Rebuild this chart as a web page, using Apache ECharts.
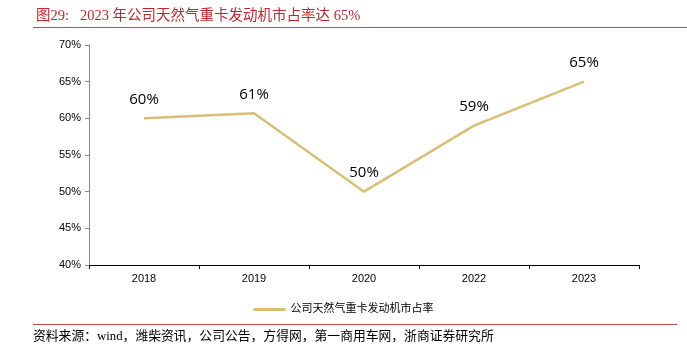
<!DOCTYPE html>
<html><head><meta charset="utf-8">
<script src="https://cdn.jsdelivr.net/npm/echarts@6/dist/echarts.min.js"></script>
<style>html,body{margin:0;padding:0;background:#fff}#c{width:687px;height:360px}</style>
</head><body><div id="c"></div>
<script>
const categories = ['2018', '2019', '2020', '2022', '2023'];
const shareValues = [60.0, 60.7, 50.0, 59.0, 65.0];
const pointLabels = ['60%', '61%', '50%', '59%', '65%'];
const seriesName = '公司天然气重卡发动机市占率';
const titleText = '图29:   2023 年公司天然气重卡发动机市占率达 65%';
const sourceText = '资料来源：wind，潍柴资讯，公司公告，方得网，第一商用车网，浙商证券研究所';

const chart = echarts.init(document.getElementById('c'), null, {renderer: 'canvas'});
const serif = '"Liberation Serif", "Noto Sans CJK SC", serif';
const lineColor = '#D8BF72';
chart.setOption({
  animation: false,
  backgroundColor: '#fff',
  title: {
    text: titleText, left: 31, top: 4,
    textStyle: {color: '#C0272D', fontSize: 14.5, fontWeight: 'normal', fontFamily: serif}
  },
  graphic: [
    {type: 'line', shape: {x1: 33, y1: 27.5, x2: 687, y2: 27.5}, style: {stroke: '#C8474B', lineWidth: 1}},
    {type: 'line', shape: {x1: 33, y1: 324.5, x2: 677, y2: 324.5}, style: {stroke: '#C8474B', lineWidth: 1}},
    {type: 'text', left: 33, top: 330, style: {text: sourceText, fill: '#000', fontSize: 12.8, fontFamily: serif}}
  ],
  grid: {left: 89, right: 48, top: 45, bottom: 95},
  legend: {
    data: [{name: seriesName, itemStyle: {color: lineColor, opacity: 1}}], top: 299, left: 'center',
    itemWidth: 32, itemHeight: 3, icon: 'rect', itemGap: 4,
    textStyle: {fontSize: 11, color: '#000', fontFamily: serif}
  },
  xAxis: {
    type: 'category', data: categories, boundaryGap: true,
    axisLine: {lineStyle: {color: '#000', width: 1}},
    axisTick: {show: true, inside: false, length: 4, lineStyle: {color: '#000'}},
    axisLabel: {color: '#000', fontSize: 11, margin: 8, fontFamily: '"Liberation Sans", Arial, sans-serif'}
  },
  yAxis: {
    type: 'value', min: 40, max: 70, interval: 5,
    axisLine: {show: true, lineStyle: {color: '#888', width: 1}},
    axisTick: {show: true, length: 4, lineStyle: {color: '#888'}},
    splitLine: {show: false},
    axisLabel: {color: '#000', fontSize: 11, margin: 8, formatter: v => v + '%', fontFamily: '"Liberation Sans", Arial, sans-serif'}
  },
  series: [{
    name: seriesName, type: 'line', data: shareValues,
    symbol: 'circle', symbolSize: 0, showSymbol: true,
    lineStyle: {color: lineColor, width: 2.5},
    itemStyle: {color: lineColor},
    label: {
      show: true, position: 'top', distance: 11, color: '#000', fontSize: 15,
      fontFamily: '"Open Sans", "Liberation Sans", sans-serif',
      formatter: p => pointLabels[p.dataIndex]
    }
  }]
});
</script></body></html>
